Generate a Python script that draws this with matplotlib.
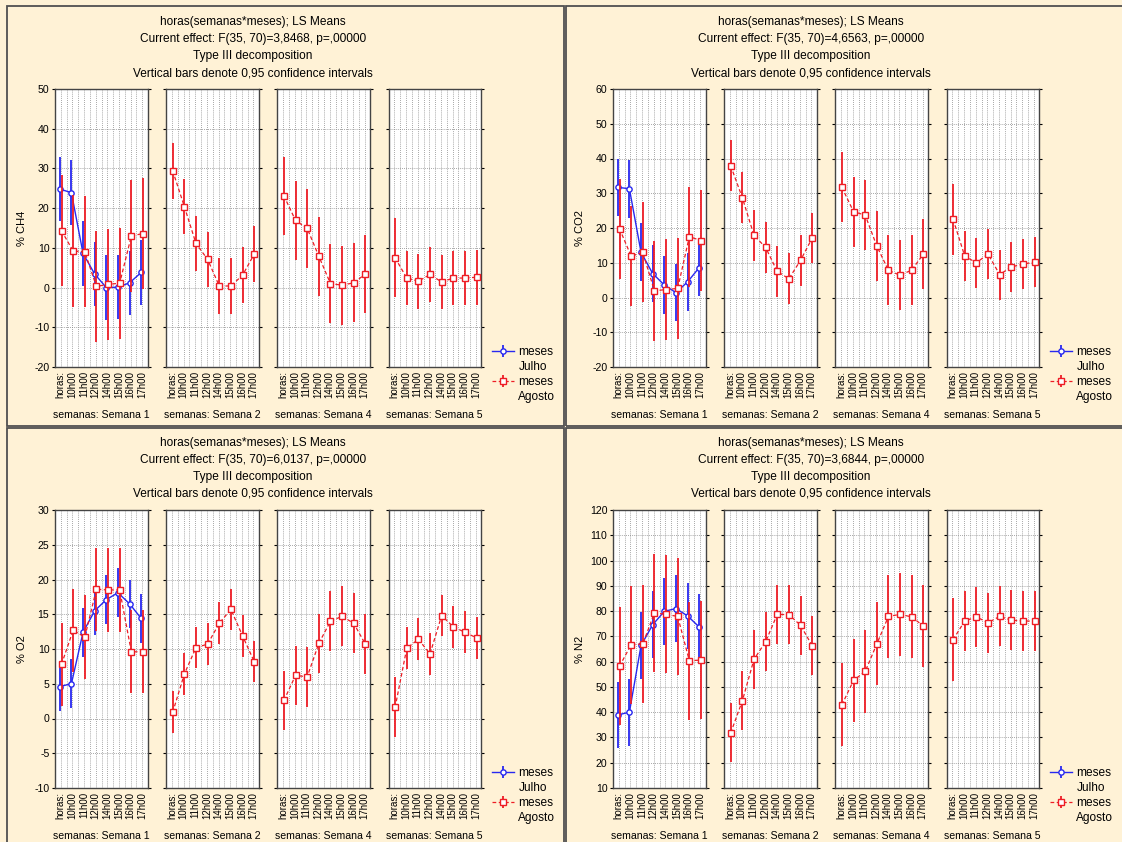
import matplotlib

matplotlib.use("Agg")
import matplotlib.pyplot as plt
import numpy as np
from matplotlib.lines import Line2D
from matplotlib.patches import Rectangle

W, H = 1122, 842

horas = ["horas:", "10h00", "11h00", "12h00", "14h00", "15h00", "16h00", "17h00"]
semanas = ["Semana 1", "Semana 2", "Semana 4", "Semana 5"]
efeitos = ["3,8468", "4,6563", "6,0137", "3,6844"]
variaveis = ["% CH4", "% CO2", "% O2", "% N2"]

# CH4 (LS means and 0,95 CI half widths)
ch4_julho = [24.8, 23.9, 8.6, 3.4, 0.0, 0.1, 1.2, 3.8]
ch4_julho_ci = [8.1, 8.1, 8.1, 8.1, 8.1, 8.1, 8.1, 8.1]
ch4_agosto = [
    [14.3, 9.2, 9.0, 0.3, 0.8, 1.1, 13.0, 13.6],
    [29.4, 20.4, 11.1, 7.1, 0.4, 0.4, 3.1, 8.4],
    [23.1, 16.9, 14.9, 7.9, 1.0, 0.6, 1.2, 3.4],
    [7.5, 2.4, 1.6, 3.3, 1.4, 2.4, 2.4, 2.6],
]
ch4_agosto_ci = [
    [14.0, 14.0, 14.0, 14.0, 14.0, 14.0, 14.0, 14.0],
    [7.0, 7.0, 7.0, 7.0, 7.0, 7.0, 7.0, 7.0],
    [9.9, 9.9, 9.9, 9.9, 9.9, 9.9, 9.9, 9.9],
    [9.9, 6.9, 6.9, 6.9, 6.9, 6.9, 6.9, 6.9],
]

# CO2
co2_julho = [31.7, 31.3, 13.0, 6.9, 3.6, 1.4, 4.5, 8.6]
co2_julho_ci = [8.3, 8.3, 8.3, 8.3, 8.3, 8.3, 8.3, 8.3]
co2_agosto = [
    [19.8, 11.9, 13.0, 1.9, 2.3, 2.6, 17.5, 16.4],
    [37.9, 28.7, 17.9, 14.4, 7.5, 5.4, 10.7, 17.1],
    [31.7, 24.7, 23.7, 14.8, 7.8, 6.4, 7.9, 12.5],
    [22.5, 11.9, 10.0, 12.5, 6.6, 8.8, 9.6, 10.2],
]
co2_agosto_ci = [
    [14.4, 14.4, 14.4, 14.4, 14.4, 14.4, 14.4, 14.4],
    [7.3, 7.3, 7.3, 7.3, 7.3, 7.3, 7.3, 7.3],
    [10.1, 10.1, 10.1, 10.1, 10.1, 10.1, 10.1, 10.1],
    [10.3, 7.2, 7.2, 7.2, 7.2, 7.2, 7.2, 7.2],
]

# O2
o2_julho = [4.6, 5.0, 12.4, 15.5, 17.1, 18.1, 16.5, 14.4]
o2_julho_ci = [3.5, 3.5, 3.5, 3.5, 3.5, 3.5, 3.5, 3.5]
o2_agosto = [
    [7.8, 12.7, 11.7, 18.6, 18.5, 18.5, 9.6, 9.6],
    [0.9, 6.4, 10.2, 10.7, 13.7, 15.7, 11.9, 8.2],
    [2.6, 6.2, 6.0, 10.8, 14.0, 14.7, 13.7, 10.7],
    [1.6, 10.1, 11.4, 9.3, 14.8, 13.2, 12.4, 11.6],
]
o2_agosto_ci = [
    [6.0, 6.0, 6.0, 6.0, 6.0, 6.0, 6.0, 6.0],
    [3.0, 3.0, 3.0, 3.0, 3.0, 3.0, 3.0, 3.0],
    [4.3, 4.3, 4.3, 4.3, 4.3, 4.3, 4.3, 4.3],
    [4.3, 3.0, 3.0, 3.0, 3.0, 3.0, 3.0, 3.0],
]

# N2
n2_julho = [38.9, 40.0, 66.4, 74.6, 79.9, 81.0, 78.1, 73.7]
n2_julho_ci = [13.2, 13.2, 13.2, 13.2, 13.2, 13.2, 13.2, 13.2]
n2_agosto = [
    [58.2, 66.7, 67.0, 79.3, 78.7, 77.9, 60.4, 60.6],
    [31.8, 44.5, 60.9, 67.9, 78.7, 78.6, 74.4, 66.3],
    [42.9, 52.6, 56.1, 67.0, 77.9, 78.7, 77.7, 74.1],
    [68.7, 76.1, 77.7, 75.4, 77.9, 76.4, 76.1, 76.0],
]
n2_agosto_ci = [
    [23.3, 23.3, 23.3, 23.3, 23.3, 23.3, 23.3, 23.3],
    [11.7, 11.7, 11.7, 11.7, 11.7, 11.7, 11.7, 11.7],
    [16.4, 16.4, 16.4, 16.4, 16.4, 16.4, 16.4, 16.4],
    [16.4, 11.9, 11.9, 11.9, 11.9, 11.9, 11.9, 11.9],
]

y_limits = [(-20, 50, 10), (-20, 60, 10), (-10, 30, 5), (10, 120, 10)]

BG = "#FFF2D6"
BLUE = "#2828F0"
RED = "#EE1D25"
GRID = "#8a8a8a"

plt.rcParams["font.family"] = ["Liberation Sans", "DejaVu Sans"]
plt.rcParams["axes.unicode_minus"] = False

fig = plt.figure(figsize=(W / 100, H / 100), dpi=100, facecolor=BG)


def fx(x):
    return x / W


def fy(y):
    return 1 - y / H


# quadrant frames
for x0, y0, x1, y1 in [(7, 6, 564, 426), (566, 6, 1130, 426),
                       (7, 428, 564, 850), (566, 428, 1130, 850)]:
    fig.add_artist(Rectangle((fx(x0), fy(y1)), (x1 - x0) / W, (y1 - y0) / H,
                             transform=fig.transFigure, fill=False,
                             edgecolor="#505050", linewidth=1.3))

blocks = [
    (0, 0, ch4_julho, ch4_julho_ci, ch4_agosto, ch4_agosto_ci),
    (558, 0, co2_julho, co2_julho_ci, co2_agosto, co2_agosto_ci),
    (0, 421, o2_julho, o2_julho_ci, o2_agosto, o2_agosto_ci),
    (558, 421, n2_julho, n2_julho_ci, n2_agosto, n2_agosto_ci),
]

x = np.arange(len(horas))

for b, (qx, qy, julho, julho_ci, agosto, agosto_ci) in enumerate(blocks):
    title = ["horas(semanas*meses); LS Means",
             f"Current effect: F(35, 70)={efeitos[b]}, p=,00000",
             "Type III decomposition",
             "Vertical bars denote 0,95 confidence intervals"]
    for line, ty in zip(title, [22, 39, 56, 73]):
        fig.text(fx(253 + qx), fy(ty + qy), line, ha="center", va="center", fontsize=8.6)
    fig.text(fx(22 + qx), fy(228 + qy), variaveis[b], rotation=90,
             ha="center", va="center", fontsize=8)

    lo, hi, step = y_limits[b]
    for k, sem in enumerate(semanas):
        left = 55 + 111.2 * k + qx
        ax = fig.add_axes([fx(left), fy(367 + qy), 92.5 / W, 278 / H])
        ax.set_facecolor("white")
        if k == 0:
            eb_j = ax.errorbar(x - 0.09, julho, yerr=julho_ci, fmt="o-", color=BLUE,
                               mfc="white", mec=BLUE, ms=3.8, mew=1.0, lw=1.0,
                               elinewidth=1.3, capsize=0, zorder=3)
        eb_a = ax.errorbar(x + 0.06, agosto[k], yerr=agosto_ci[k], fmt="s--", color=RED,
                           mfc="white", mec=RED, ms=4.3, mew=1.0, lw=0.9, dashes=(3, 2),
                           elinewidth=1.3, capsize=0, zorder=4)
        ax.set_xlim(-0.5, 7.45)
        ax.set_ylim(lo, hi)
        ax.set_yticks(np.arange(lo, hi + step / 2, step))
        ax.set_xticks(x)
        ax.set_xticklabels(horas, rotation=90, fontsize=7)
        ax.set_xticks(x[:-1] + 0.5, minor=True)
        ax.grid(True, which="both", axis="x", color=GRID, lw=0.6, ls=(0, (1, 1.5)))
        ax.grid(True, which="major", axis="y", color=GRID, lw=0.6, ls=(0, (1, 1.5)))
        ax.set_axisbelow(True)
        ax.tick_params(axis="x", which="both", length=0, pad=3)
        ax.tick_params(axis="y", direction="out", length=2, left=True, right=True,
                       labelsize=7.6, pad=2)
        if k:
            ax.tick_params(axis="y", labelleft=False)
        for s in ax.spines.values():
            s.set_color("#444444")
            s.set_linewidth(1.0)
        fig.text(fx(left + 46), fy(415 + qy), f"semanas: {sem}",
                 ha="center", va="center", fontsize=7.6)

    blank = Line2D([], [], linestyle="none")
    fig.legend(handles=[eb_j, blank, eb_a, blank],
               labels=["meses", "Julho", "meses", "Agosto"],
               loc="upper left", bbox_to_anchor=(fx(492 + qx), fy(346 + qy)),
               frameon=False, fontsize=8.6, handlelength=1.8, handletextpad=0.4,
               labelspacing=0.26, borderpad=0, borderaxespad=0)

fig.savefig("out.png", dpi=100, facecolor=BG)
plt.close(fig)
